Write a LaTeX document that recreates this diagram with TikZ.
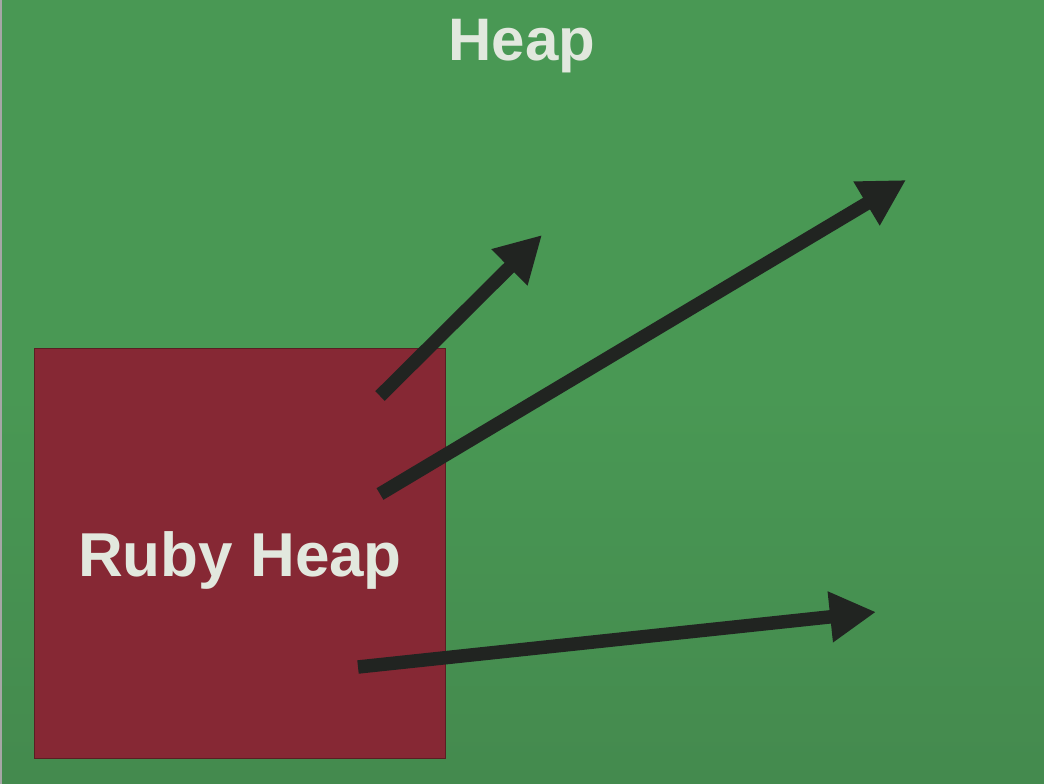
\documentclass[tikz,border=0pt]{standalone}
\usepackage{fontspec}
\setmainfont{Liberation Sans}
\usetikzlibrary{arrows.meta}
\definecolor{heapgreen}{RGB}{73,152,84}
\definecolor{heapgreendark}{RGB}{68,138,78}
\definecolor{rubyred}{RGB}{134,40,52}
\definecolor{rubyedge}{RGB}{90,30,35}
\definecolor{labelgray}{RGB}{226,232,222}
\definecolor{arrowblack}{RGB}{33,36,33}
\begin{document}
\begin{tikzpicture}[x=1pt,y=-1pt,
  ptr/.style={draw=arrowblack, line width=13.5pt, -{Triangle[length=46pt,width=48pt]}},
  label/.style={text=labelgray, font=\bfseries\fontsize{60}{60}\selectfont, inner sep=0pt, anchor=base}]
\useasboundingbox (0,0) rectangle (1044,784);
\shade[top color=heapgreen, bottom color=heapgreendark, middle color=heapgreen] (0,0) rectangle (1044,784);
\draw[gray!70, line width=2pt] (1,0) -- (1,784);
\node[draw=rubyedge, line width=1pt, fill=rubyred, minimum width=411pt, minimum height=410pt, inner sep=0pt, anchor=north west] (ruby) at (34,348) {};
\node[label] (heap) at (522,60) {Heap};
\node[label, font=\bfseries\fontsize{62}{62}\selectfont] (rubylabel) at (240,576) {Ruby Heap};
\coordinate (s1) at (380,396);
\coordinate (e1) at (542,235);
\coordinate (s2) at (380,494);
\coordinate (e2) at (906,180);
\coordinate (s3) at (358,667);
\coordinate (e3) at (876,612);
\draw[ptr] (s1) -- (e1);
\draw[ptr] (s2) -- (e2);
\draw[ptr] (s3) -- (e3);
\end{tikzpicture}
\end{document}
